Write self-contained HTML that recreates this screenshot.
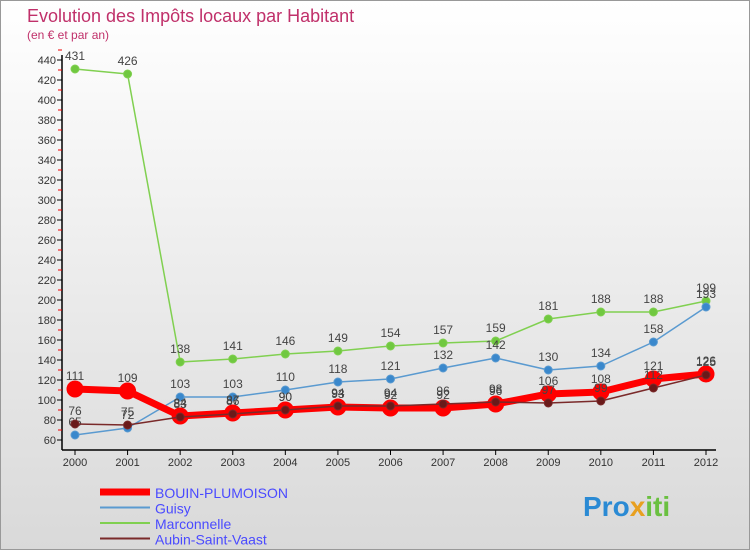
<!DOCTYPE html>
<html><head><meta charset="utf-8"><style>
body{margin:0;width:750px;height:550px;overflow:hidden;font-family:"Liberation Sans",sans-serif}
</style></head><body>
<svg width="750" height="550" xmlns="http://www.w3.org/2000/svg" font-family="Liberation Sans, sans-serif">
<defs><linearGradient id="bg" x1="0" y1="0" x2="0" y2="1"><stop offset="0" stop-color="#ffffff"/><stop offset="1" stop-color="#d9d9d9"/></linearGradient></defs>
<rect x="0.5" y="0.5" width="749" height="549" fill="url(#bg)" stroke="#999"/>
<text x="27" y="22" font-size="18" fill="#c0306a">Evolution des Impôts locaux par Habitant</text>
<text x="27" y="39" font-size="12" fill="#c0306a">(en € et par an)</text>
<g id="axes"></g>
<g id="series"></g>
<g id="legend"></g>
<text x="583" y="516" font-size="28" font-weight="bold" fill="#2a8ad4">Pro<tspan fill="#e8a020">x</tspan><tspan fill="#6ac040">iti</tspan></text>
</svg>
<script>
const years=[2000,2001,2002,2003,2004,2005,2006,2007,2008,2009,2010,2011,2012];
const bouin=[111,109,84,87,90,93,92,92,96,106,108,121,126];
const guisy=[65,72,103,103,110,118,121,132,142,130,134,158,193];
const marco=[431,426,138,141,146,149,154,157,159,181,188,188,199];
const aubin=[76,75,83,86,90,94,94,96,98,97,99,112,125];
const yTicks=[60,80,100,120,140,160,180,200,220,240,260,280,300,320,340,360,380,400,420,440];
const NS="http://www.w3.org/2000/svg";
const X=i=>75+i*(706-75)/12;
const Y=v=>500-v;
function mk(t,a,p){const e=document.createElementNS(NS,t);for(const k in a)e.setAttribute(k,a[k]);p.appendChild(e);return e;}
const ax=document.getElementById('axes');
let l=mk('line',{x1:62,y1:55,x2:62,y2:450,stroke:'#000','stroke-width':1.5},ax);


l=mk('line',{x1:62,y1:450,x2:716,y2:450,stroke:'#000','stroke-width':1.5},ax);


yTicks.forEach(v=>{
  mk('line',{x1:57,y1:Y(v),x2:62,y2:Y(v),stroke:'#000'},ax);
  mk('line',{x1:58,y1:Y(v)-10,x2:62,y2:Y(v)-10,stroke:'#e00'},ax);
  const t=mk('text',{x:56,y:Y(v)+4,'font-size':11,'text-anchor':'end',fill:'#333'},ax);
  
  
  t.textContent=v;
});
years.forEach((y,i)=>{
  mk('line',{x1:X(i),y1:450,x2:X(i),y2:455,stroke:'#000'},ax);
  const t=mk('text',{x:X(i),y:466,'font-size':11,'text-anchor':'middle',fill:'#333'},ax);
  
  
  t.textContent=y;
});
const sg=document.getElementById('series');
function series(name,vals,color,w,r,fill){
  const g=mk('g',{},sg);
  
  
  const pl=mk('polyline',{points:vals.map((v,i)=>X(i)+','+Y(v)).join(' '),fill:'none',stroke:color,'stroke-width':w,'stroke-linejoin':'round'},g);
  
  
  vals.forEach((v,i)=>{
    const c=mk('circle',{cx:X(i),cy:Y(v),r:r,fill:fill,stroke:color,'stroke-width':1},g);
    
    
    const t=mk('text',{x:X(i),y:Y(v)-9,'font-size':12,'text-anchor':'middle',fill:'#444'},g);
    
    
    t.textContent=v;
  });
}
series('marconnelle',marco,'#80d050',1.5,4,'#70c840');
series('guisy',guisy,'#5a9ad0',1.5,4,'#3a88cc');
series('bouin-plumoison',bouin,'#ff0000',7,8,'#ff0000');
series('aubin-saint-vaast',aubin,'#7a2a2a',1.5,4,'#6a1a1a');
const lg=document.getElementById('legend');
const items=[['BOUIN-PLUMOISON','#ff0000',7],['Guisy','#5a9ad0',2],['Marconnelle','#80d050',2],['Aubin-Saint-Vaast','#7a2a2a',2]];
items.forEach((it,i)=>{
  const y=492+i*15.5;
  const g=mk('g',{},lg);
  
  
  mk('line',{x1:100,y1:y,x2:150,y2:y,stroke:it[1],'stroke-width':it[2]},g);
  const t=mk('text',{x:155,y:y+6,'font-size':14,fill:'#4a4aff'},g);
  t.textContent=it[0];
});
</script>
</body></html>
